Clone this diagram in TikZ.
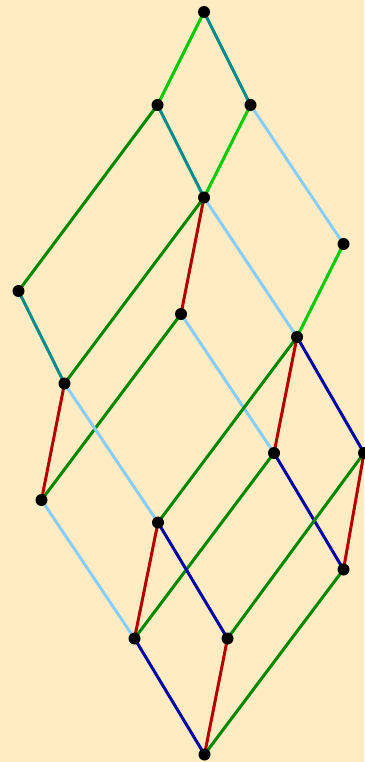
\documentclass[tikz,border=0pt]{standalone}
\definecolor{bgc}{RGB}{255,236,194}
\definecolor{lgreen}{RGB}{0,204,0}
\definecolor{teal2}{RGB}{0,140,140}
\definecolor{dgreen}{RGB}{0,136,0}
\definecolor{red2}{RGB}{180,0,0}
\definecolor{dblue}{RGB}{0,0,170}
\definecolor{lblue}{RGB}{135,206,250}
\tikzset{
  dot/.style={circle,fill=black,inner sep=0pt,minimum size=12pt},
  edge/.style={line width=3pt},
}
\begin{document}
\begin{tikzpicture}[x=1pt,y=-1pt]
\fill[bgc] (0,0) rectangle (364,762);
\useasboundingbox (0,0) rectangle (364,762);
\coordinate (A) at (204,12);
\coordinate (B) at (157.5,105);
\coordinate (C) at (250.5,105);
\coordinate (D) at (204,197.5);
\coordinate (E) at (343.5,244);
\coordinate (F) at (18.5,291);
\coordinate (G) at (181,314);
\coordinate (H) at (297,337);
\coordinate (I) at (64.5,383.5);
\coordinate (J) at (274,453);
\coordinate (K) at (364,453);
\coordinate (L) at (41.5,500);
\coordinate (M) at (158,522.5);
\coordinate (N) at (343.5,569.5);
\coordinate (O) at (134.5,638.5);
\coordinate (P) at (227.5,638.5);
\coordinate (Q) at (204.5,754.5);
\draw[edge,lgreen] (A) -- (B);
\draw[edge,teal2] (A) -- (C);
\draw[edge,teal2] (B) -- (D);
\draw[edge,lgreen] (C) -- (D);
\draw[edge,dgreen] (B) -- (F);
\draw[edge,lblue] (C) -- (E);
\draw[edge,dgreen] (D) -- (I);
\draw[edge,red2] (D) -- (G);
\draw[edge,lblue] (D) -- (H);
\draw[edge,lgreen] (E) -- (H);
\draw[edge,teal2] (F) -- (I);
\draw[edge,dgreen] (G) -- (L);
\draw[edge,lblue] (G) -- (J);
\draw[edge,dgreen] (H) -- (M);
\draw[edge,red2] (H) -- (J);
\draw[edge,dblue] (H) -- (K);
\draw[edge,red2] (I) -- (L);
\draw[edge,lblue] (I) -- (M);
\draw[edge,dgreen] (J) -- (O);
\draw[edge,dblue] (J) -- (N);
\draw[edge,dgreen] (K) -- (P);
\draw[edge,red2] (K) -- (N);
\draw[edge,red2] (M) -- (O);
\draw[edge,dblue] (M) -- (P);
\draw[edge,lblue] (L) -- (O);
\draw[edge,dblue] (O) -- (Q);
\draw[edge,red2] (P) -- (Q);
\draw[edge,dgreen] (N) -- (Q);
\foreach \n in {A,B,C,D,E,F,G,H,I,J,K,L,M,N,O,P,Q}
  \node[dot] (n\n) at (\n) {};
\end{tikzpicture}
\end{document}
